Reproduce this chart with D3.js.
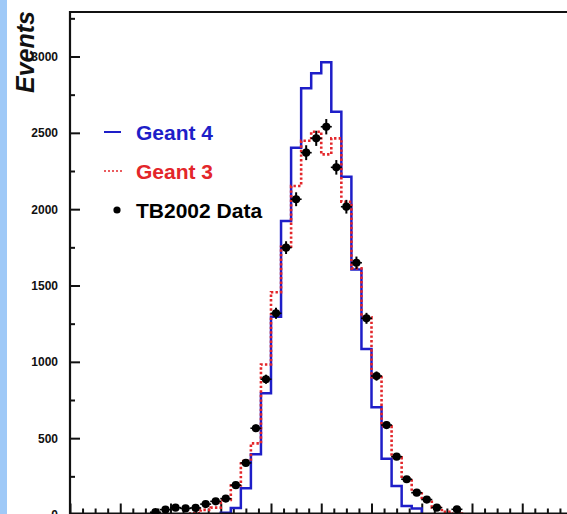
<!DOCTYPE html>
<html>
<head>
<meta charset="utf-8">
<script src="https://cdn.jsdelivr.net/npm/d3@7"></script>
<style>
  html, body { margin: 0; padding: 0; background: #ffffff; }
  svg { display: block; }
</style>
</head>
<body>
<svg id="chart" width="567" height="514"></svg>
<script>
// Energy distribution: simulated histograms vs. test-beam data, 50 bins.
const binCount = 50;

// Geant 4 simulation, counts per bin (bins 0..49)
const geant4 = [
  0, 0, 0, 0, 0, 0, 0, 0, 0, 0,
  0, 0, 0, 0, 0, 12, 42, 172, 394, 794,
  1296, 1922, 2403, 2792, 2890, 2962, 2638, 2213, 1605, 1084,
  702, 365, 187, 56, 40, 0, 0, 0, 0, 0,
  0, 0, 0, 0, 0, 0, 0, 0, 0, 0
];

// Geant 3 simulation, counts per bin
const geant3 = [
  0, 0, 0, 0, 0, 0, 0, 0, 0, 0,
  0, 0, 8, 30, 45, 95, 190, 350, 466, 983,
  1456, 1754, 2152, 2448, 2507, 2359, 2464, 2049, 1612, 1292,
  900, 578, 375, 237, 150, 95, 47, 18, 6, 0,
  0, 0, 0, 0, 0, 0, 0, 0, 0, 0
];

// TB2002 test-beam data, counts per bin (0 = no entry)
const tbData = [
  0, 0, 0, 0, 0, 0, 0, 0, 15, 32,
  45, 40, 43, 68, 86, 104, 192, 338, 565, 886,
  1318, 1748, 2065, 2370, 2464, 2540, 2274, 2016, 1649, 1285,
  907, 586, 379, 231, 143, 98, 45, 0, 34, 0,
  0, 0, 0, 0, 0, 0, 0, 0, 0, 0
];

const yMajorTicks = [0, 500, 1000, 1500, 2000, 2500, 3000];
const yMinorTicks = d3.range(0, 3500, 250).filter(v => v % 500 !== 0);
const xMajorTicks = d3.range(0, binCount + 0.01, 5);
const xMinorTicks = d3.range(0, binCount + 0.01, 1.25).filter(v => v % 5 !== 0);

const legendItems = [
  { label: "Geant 4", kind: "g4" },
  { label: "Geant 3", kind: "g3" },
  { label: "TB2002 Data", kind: "data" }
];

const colors = { g4: "#1e1ec8", g3: "#e3262a", data: "#000000" };

const svg = d3.select("#chart");

// page background strip on the left
svg.append("rect").attr("x", 0).attr("y", 0).attr("width", 7).attr("height", 514)
  .attr("fill", "#9fc9f7");

const frameLeft = 70, frameTop = 12, frameBottom = 513.5, frameRight = 572.5;

const x = d3.scaleLinear().domain([0, binCount]).range([frameLeft, frameRight]);
const y = d3.scaleLinear().domain([0, 3000]).range([514.5, 56.5]);

// axes ticks
const yMajor = d3.axisLeft(y).tickValues(yMajorTicks).tickSize(-10).tickSizeOuter(0)
  .tickPadding(12).tickFormat(d3.format("d"));
const yMinor = d3.axisLeft(y).tickValues(yMinorTicks).tickSize(-5).tickSizeOuter(0)
  .tickFormat("");
const xMajor = d3.axisBottom(x).tickValues(xMajorTicks).tickSize(-10).tickSizeOuter(0)
  .tickFormat("");
const xMinor = d3.axisBottom(x).tickValues(xMinorTicks).tickSize(-5).tickSizeOuter(0)
  .tickFormat("");

function styleAxis(g) {
  g.select(".domain").remove();
  g.selectAll(".tick line").attr("stroke", "#111").attr("stroke-width", 2);
  g.selectAll(".tick text")
    .attr("fill", "#111")
    .style("font-family", "'Liberation Sans', Arial, sans-serif")
    .style("font-weight", "bold")
    .style("font-size", "12px");
}

svg.append("g").attr("transform", `translate(${frameLeft},0)`).call(yMajor).call(styleAxis);
svg.append("g").attr("transform", `translate(${frameLeft},0)`).call(yMinor).call(styleAxis);
svg.append("g").attr("transform", `translate(0,${frameBottom})`).call(xMajor).call(styleAxis);
svg.append("g").attr("transform", `translate(0,${frameBottom})`).call(xMinor).call(styleAxis);

// histogram outlines
function stepData(values) {
  const pts = values.map((v, i) => ({ e: i, v }));
  pts.push({ e: binCount, v: values[values.length - 1] });
  return pts;
}
const stepLine = d3.line()
  .x(d => x(d.e))
  .y(d => y(d.v))
  .curve(d3.curveStepAfter);

svg.append("path")
  .datum(stepData(geant4))
  .attr("d", stepLine)
  .attr("fill", "none")
  .attr("stroke", colors.g4)
  .attr("stroke-width", 2.5);

svg.append("path")
  .datum(stepData(geant3))
  .attr("d", stepLine)
  .attr("fill", "none")
  .attr("stroke", colors.g3)
  .attr("stroke-width", 2.6)
  .attr("stroke-dasharray", "2.4,2.2");

// frame (top and left border, bottom axis line)
svg.append("path")
  .attr("d", `M${frameRight},${frameTop}H${frameLeft}V${frameBottom + 1}M${frameLeft},${frameBottom}H${frameRight}`)
  .attr("fill", "none")
  .attr("stroke", "#111")
  .attr("stroke-width", 2.2);

// data points with statistical error bars
const points = tbData.map((v, i) => ({ c: i + 0.5, v })).filter(d => d.v > 0);
const pg = svg.append("g");
pg.selectAll("line.err")
  .data(points)
  .join("line")
  .attr("class", "err")
  .attr("x1", d => x(d.c)).attr("x2", d => x(d.c))
  .attr("y1", d => y(d.v + Math.sqrt(d.v)))
  .attr("y2", d => y(Math.max(0, d.v - Math.sqrt(d.v))))
  .attr("stroke", colors.data).attr("stroke-width", 2);
pg.selectAll("line.wid")
  .data(points)
  .join("line")
  .attr("class", "wid")
  .attr("x1", d => x(d.c) - 5.5).attr("x2", d => x(d.c) + 5.5)
  .attr("y1", d => y(d.v)).attr("y2", d => y(d.v))
  .attr("stroke", colors.data).attr("stroke-width", 1.6);
pg.selectAll("circle")
  .data(points)
  .join("circle")
  .attr("cx", d => x(d.c))
  .attr("cy", d => y(d.v))
  .attr("r", 4.1)
  .attr("fill", colors.data);

// legend
const legend = svg.append("g");
const rowY = [132, 171, 210];
legendItems.forEach((item, i) => {
  const cy = rowY[i];
  if (item.kind === "g4") {
    legend.append("line").attr("x1", 104).attr("x2", 121).attr("y1", cy).attr("y2", cy)
      .attr("stroke", colors.g4).attr("stroke-width", 2);
  } else if (item.kind === "g3") {
    legend.append("line").attr("x1", 104).attr("x2", 122).attr("y1", cy).attr("y2", cy)
      .attr("stroke", colors.g3).attr("stroke-width", 1.6).attr("stroke-dasharray", "2,2");
  } else {
    legend.append("circle").attr("cx", 117).attr("cy", cy).attr("r", 3.6).attr("fill", colors.data);
  }
  legend.append("text")
    .attr("x", 136)
    .attr("y", cy + 8)
    .attr("fill", colors[item.kind])
    .style("font-family", "'Liberation Sans', Arial, sans-serif")
    .style("font-weight", "bold")
    .style("font-size", "21px")
    .text(item.label);
});

// y-axis title
svg.append("text")
  .attr("transform", "translate(34,93) rotate(-90)")
  .attr("text-anchor", "start")
  .attr("fill", "#111")
  .style("font-family", "'Liberation Sans', Arial, sans-serif")
  .style("font-weight", "bold")
  .style("font-style", "italic")
  .style("font-size", "25px")
  .text("Events");
</script>
</body>
</html>
